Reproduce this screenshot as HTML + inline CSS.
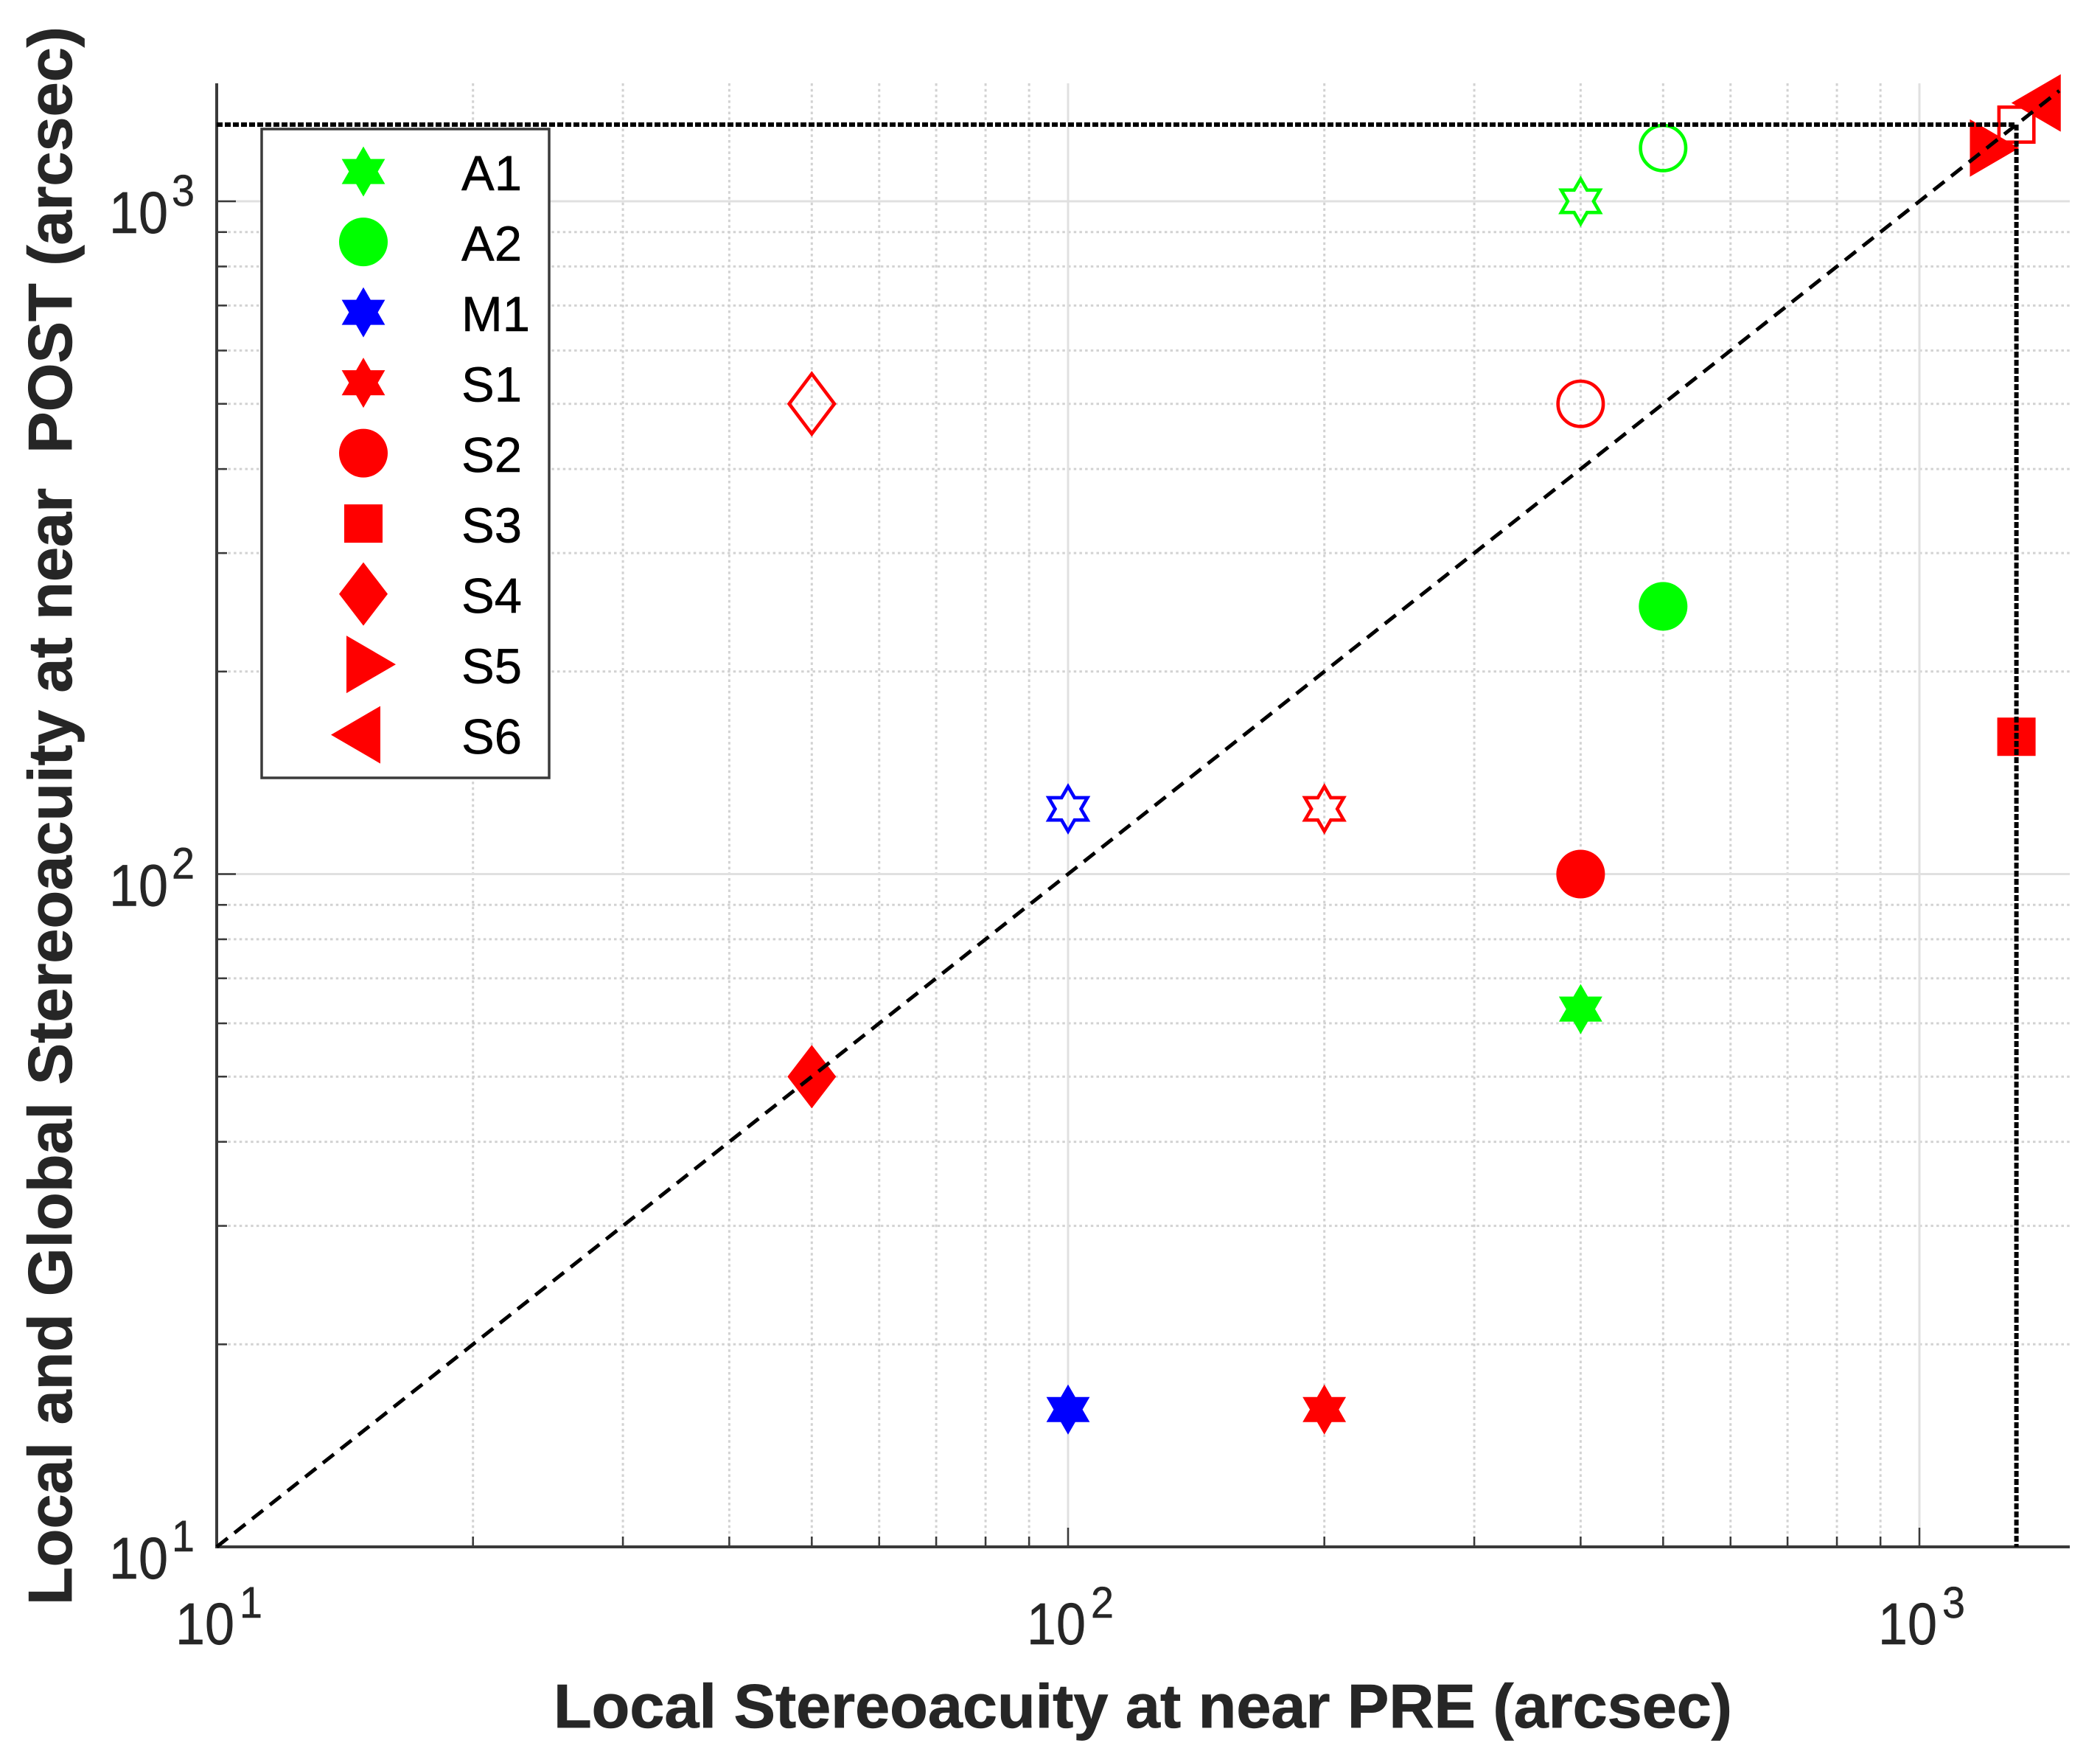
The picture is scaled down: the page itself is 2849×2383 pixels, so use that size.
<!DOCTYPE html>
<html lang="en">
<head>
<meta charset="utf-8">
<title>Local and global stereoacuity at near, pre versus post</title>
<style>
  html, body { margin: 0; padding: 0; background: #ffffff; }
  svg { display: block; }
  text { font-family: "Liberation Sans", Arial, sans-serif; text-rendering: geometricPrecision; }
</style>
</head>
<body>
<svg id="chart" xmlns="http://www.w3.org/2000/svg" width="2849" height="2383" viewBox="0 0 2849 2383">
  <rect x="0" y="0" width="2849" height="2383" fill="#ffffff"/>
  <g id="grid"></g>
  <g id="axes"></g>
  <g id="marks"></g>
  <g id="guides"></g>
  <g id="legend"></g>
  <text x="751" y="2343" font-size="84" font-weight="700" fill="#262626" stroke="#262626" stroke-width="0.8" textLength="1599" lengthAdjust="spacingAndGlyphs">Local Stereoacuity at near PRE (arcsec)</text>
  <text transform="translate(97 2177) rotate(-90)" x="0" y="0" font-size="84" font-weight="700" fill="#262626" stroke="#262626" stroke-width="0.8" textLength="2141" lengthAdjust="spacingAndGlyphs" style="white-space:pre" xml:space="preserve">Local and Global Stereoacuity at near  POST (arcsec)</text>
</svg>
<script>
// ---- chart data ----
const seriesNames = ['A1', 'A2', 'M1', 'S1', 'S2', 'S3', 'S4', 'S5', 'S6'];
const seriesShapes = ['star', 'circle', 'star', 'star', 'circle', 'square', 'diamond', 'right', 'left'];
const seriesColors = ['#00ff00', '#00ff00', '#0000ff', '#ff0000', '#ff0000', '#ff0000', '#ff0000', '#ff0000', '#ff0000'];
const preValues = [400, 500, 100, 200, 400, 1300, 50, 1200, 1400];
const postFilled = [63, 250, 16, 16, 100, 160, 50, 1200, 1400];
const postOpen = [1000, 1200, 125, 125, 500, 1300, 500, null, null];
const axisLimits = [10, 1500];
const majorTicks = [10, 100, 1000];
const minorTicks = [20, 30, 40, 50, 60, 70, 80, 90, 200, 300, 400, 500, 600, 700, 800, 900];
const tickBases = ['10', '10', '10'];
const tickExponents = ['1', '2', '3'];
const identityLine = [10, 1460];
const cutoffValue = [1300];

// ---- axis functions ----
const plot = { left: 294, right: 2808, top: 113, bottom: 2098 };
const xPerDecade = 1155;
const yPerDecade = 912.5;
function xScale(v) { return plot.left + (Math.log10(v) - 1) * xPerDecade; }
function yScale(v) { return plot.bottom - (Math.log10(v) - 1) * yPerDecade; }

const NS = 'http://www.w3.org/2000/svg';
function make(parent, tag, attrs) {
  const el = document.createElementNS(NS, tag);
  for (const k in attrs) el.setAttribute(k, attrs[k]);
  parent.appendChild(el);
  return el;
}
const gridG = document.getElementById('grid');
const axesG = document.getElementById('axes');
const marksG = document.getElementById('marks');
const guidesG = document.getElementById('guides');
const legendG = document.getElementById('legend');

// ---- grid ----
minorTicks.forEach(function (v) {
  const vx = make(gridG, 'line', { x1: xScale(v), x2: xScale(v), y1: plot.top, y2: plot.bottom, stroke: '#d2d2d2', 'stroke-width': 3, 'stroke-dasharray': '3.5 4.2' });
  
  
  const hz = make(gridG, 'line', { x1: plot.left, x2: plot.right, y1: yScale(v), y2: yScale(v), stroke: '#d2d2d2', 'stroke-width': 3, 'stroke-dasharray': '3.5 4.2' });
  
  
});
majorTicks.forEach(function (v) {
  const vx = make(gridG, 'line', { x1: xScale(v), x2: xScale(v), y1: plot.top, y2: plot.bottom, stroke: '#e0e0e0', 'stroke-width': 3 });
  
  
  const hz = make(gridG, 'line', { x1: plot.left, x2: plot.right, y1: yScale(v), y2: yScale(v), stroke: '#e0e0e0', 'stroke-width': 3 });
  
  
});

// ---- axes and ticks ----
const xAxisLine = make(axesG, 'line', { x1: plot.left - 2, x2: plot.right, y1: plot.bottom, y2: plot.bottom, stroke: '#3a3a3a', 'stroke-width': 4 });


const yAxisLine = make(axesG, 'line', { x1: plot.left, x2: plot.left, y1: plot.top, y2: plot.bottom + 2, stroke: '#3a3a3a', 'stroke-width': 4 });



function drawTick(v, len) {
  const tx = make(axesG, 'line', { x1: xScale(v), x2: xScale(v), y1: plot.bottom, y2: plot.bottom - len, stroke: '#3a3a3a', 'stroke-width': 2.5 });
  
  
  const ty = make(axesG, 'line', { x1: plot.left, x2: plot.left + len, y1: yScale(v), y2: yScale(v), stroke: '#3a3a3a', 'stroke-width': 2.5 });
  
  
}
minorTicks.forEach(function (v) { drawTick(v, 14); });
majorTicks.forEach(function (v) { drawTick(v, 26); });

function drawLabel(base, exp, bx, by, sx, sy, nameBase, nameExp) {
  const b = make(axesG, 'text', { x: bx, y: by, 'font-size': 80, fill: '#262626', stroke: '#262626', 'stroke-width': 0.6, textLength: 80, lengthAdjust: 'spacingAndGlyphs' });
  b.textContent = base;
  
  
  const s = make(axesG, 'text', { x: sx, y: sy, 'font-size': 60, fill: '#262626', stroke: '#262626', 'stroke-width': 0.5, textLength: 31, lengthAdjust: 'spacingAndGlyphs' });
  s.textContent = exp;
  
  
}
majorTicks.forEach(function (v, i) {
  drawLabel(tickBases[i], tickExponents[i], xScale(v) - 56, 2230, xScale(v) + 31, 2194, 'x-tick-label', 'x-tick-exponent');
  drawLabel(tickBases[i], tickExponents[i], 148, yScale(v) + 43, 233, yScale(v) + 6, 'y-tick-label', 'y-tick-exponent');
});

// ---- marker geometry ----
function hexagram(cx, cy, R) {
  const r = R / Math.sqrt(3);
  const pts = [];
  for (let k = 0; k < 12; k++) {
    const a = (-90 + k * 30) * Math.PI / 180;
    const q = k % 2 === 0 ? R : r;
    pts.push((cx + q * Math.cos(a)).toFixed(1) + ',' + (cy + q * Math.sin(a)).toFixed(1));
  }
  return pts.join(' ');
}
function drawMarker(parent, shape, cx, cy, color, filled, name) {
  const style = filled
    ? { fill: color, stroke: 'none' }
    : { fill: 'none', stroke: color, 'stroke-width': 4.6, 'stroke-linejoin': 'miter' };
  const inset = filled ? 0 : 2.3;
  let el;
  if (shape === 'star') {
    el = make(parent, 'polygon', Object.assign({ points: hexagram(cx, cy, 34 - inset * 1.6) }, style));
  } else if (shape === 'circle') {
    el = make(parent, 'circle', Object.assign({ cx: cx, cy: cy, r: 33 - inset }, style));
  } else if (shape === 'square') {
    const h = 26 - inset;
    el = make(parent, 'rect', Object.assign({ x: cx - h, y: cy - h, width: 2 * h, height: 2 * h }, style));
  } else if (shape === 'diamond') {
    const w = 33 - inset, t = 43 - inset;
    el = make(parent, 'polygon', Object.assign({ points: [cx, cy - t, cx + w, cy, cx, cy + t, cx - w, cy].join(' ') }, style));
  } else if (shape === 'right') {
    el = make(parent, 'polygon', Object.assign({ points: [cx - 23, cy - 39, cx + 44, cy, cx - 23, cy + 39].join(' ') }, style));
  } else {
    el = make(parent, 'polygon', Object.assign({ points: [cx + 23, cy - 39, cx - 44, cy, cx + 23, cy + 39].join(' ') }, style));
  }
  
  
  return el;
}

// ---- data points ----
seriesNames.forEach(function (name, i) {
  const key = name.toLowerCase();
  if (postOpen[i] !== null) {
    drawMarker(marksG, seriesShapes[i], xScale(preValues[i]), yScale(postOpen[i]), seriesColors[i], false, 'marker-global-' + key);
  }
  drawMarker(marksG, seriesShapes[i], xScale(preValues[i]), yScale(postFilled[i]), seriesColors[i], true, 'marker-local-' + key);
});

// ---- guide lines ----
const diag = make(guidesG, 'line', { x1: xScale(identityLine[0]), y1: yScale(identityLine[0]), x2: xScale(identityLine[1]), y2: yScale(identityLine[1]), stroke: '#000000', 'stroke-width': 5, 'stroke-dasharray': '19 11.6' });


const cutH = make(guidesG, 'line', { x1: plot.left, y1: yScale(cutoffValue[0]), x2: xScale(cutoffValue[0]), y2: yScale(cutoffValue[0]), stroke: '#000000', 'stroke-width': 6, 'stroke-dasharray': '8 3' });


const cutV = make(guidesG, 'line', { x1: xScale(cutoffValue[0]), y1: yScale(cutoffValue[0]), x2: xScale(cutoffValue[0]), y2: plot.bottom, stroke: '#000000', 'stroke-width': 6, 'stroke-dasharray': '8 3' });



// ---- legend ----
const legendBox = make(legendG, 'rect', { x: 355, y: 175, width: 390, height: 880, fill: '#ffffff', stroke: '#3a3a3a', 'stroke-width': 3.5 });


seriesNames.forEach(function (name, i) {
  const cy = 232.6 + i * 95.5;
  drawMarker(legendG, seriesShapes[i], 493, cy, seriesColors[i], true, 'legend-marker-' + name.toLowerCase());
  const label = make(legendG, 'text', { x: 626, y: cy + 25.5, 'font-size': 67, fill: '#000000', stroke: '#000000', 'stroke-width': 0.5 });
  label.textContent = name;
  
  
});
</script>
</body>
</html>
